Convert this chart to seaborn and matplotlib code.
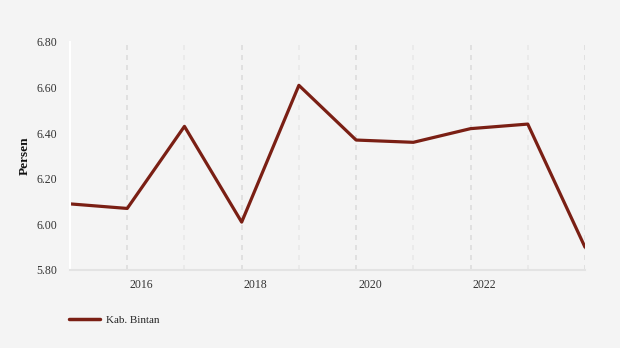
import matplotlib
matplotlib.use("Agg")
import matplotlib.pyplot as plt
import matplotlib.transforms as mtransforms
from matplotlib.lines import Line2D
import seaborn as sns
import pandas as pd

years = [2015, 2016, 2017, 2018, 2019, 2020, 2021, 2022, 2023, 2024]
values = [6.09, 6.07, 6.43, 6.01, 6.61, 6.37, 6.36, 6.42, 6.44, 5.90]
series_name = "Kab. Bintan"
y_ticks = [5.80, 6.00, 6.20, 6.40, 6.60, 6.80]
x_major = [2016, 2018, 2020, 2022, 2024]
x_labels = ["2016", "2018", "2020", "2022", ""]
x_minor = [2015, 2017, 2019, 2021, 2023]

df = pd.DataFrame({"Tahun": years, "Persen": values})

sns.set_theme(style="white")
plt.rcParams["font.family"] = ["Liberation Serif", "DejaVu Serif"]

bg = "#f4f4f4"
line_color = "#7a1f14"

fig = plt.figure(figsize=(6.2, 3.48), dpi=100, facecolor=bg)
ax = fig.add_axes([70 / 620, 1 - 270 / 348, 515 / 620, 228 / 348])
ax.set_facecolor(bg)

sns.lineplot(data=df, x="Tahun", y="Persen", color=line_color, linewidth=2.3,
             ax=ax, legend=False, clip_on=True)

ax.set_xlim(2015, 2024)
ax.set_ylim(5.80, 6.80)
ax.set_yticks(y_ticks)
ax.set_yticklabels([f"{v:.2f}" for v in y_ticks], fontsize=8.5, color="#333333")
ax.set_xticks(x_major)
ax.set_xticklabels(x_labels, fontsize=8.5, color="#333333")
ax.set_xticks(x_minor, minor=True)

# vertical dashed grid lines
for x in x_major:
    ax.axvline(x, color="#dcdcdc", linestyle=(0, (3, 3)), linewidth=1.2, zorder=0)
for x in x_minor[1:]:
    ax.axvline(x, color="#e8e8e8", linestyle=(0, (3, 3)), linewidth=1.2, zorder=0)

for side in ["top", "right"]:
    ax.spines[side].set_visible(False)
ax.spines["left"].set_color("white")
ax.spines["left"].set_linewidth(1.5)
ax.spines["bottom"].set_color("#e3e3e3")
ax.spines["bottom"].set_linewidth(1.5)

ax.tick_params(axis="y", which="major", length=5, width=1.5, color="white", pad=4)
ax.tick_params(axis="x", which="major", length=4, width=1.2, color="#dcdcdc", pad=2.5)
ax.tick_params(axis="x", which="minor", length=0)

# shift year labels to the right of their tick
offset = mtransforms.ScaledTranslation(14 / 100, 0, fig.dpi_scale_trans)
for tick in ax.xaxis.get_major_ticks():
    tick.label1.set_transform(tick.label1.get_transform() + offset)

ax.set_xlabel("")
ax.set_ylabel("Persen", fontsize=9.5, fontweight="bold", color="#111111", labelpad=4)

handle = Line2D([0], [0], color=line_color, linewidth=2.5)
fig.legend([handle], [series_name], loc="center left",
           bbox_to_anchor=(59 / 620, 1 - 320 / 348), frameon=False,
           fontsize=8, handlelength=2.8, handletextpad=0.5)

fig.savefig("out.png", dpi=100, facecolor=bg)
